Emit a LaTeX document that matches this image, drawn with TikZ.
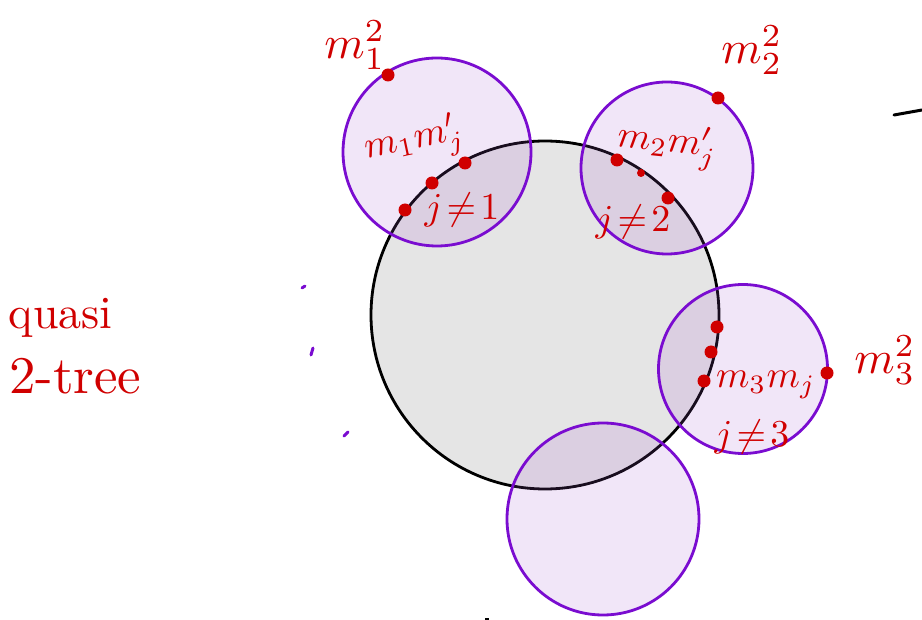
\documentclass[tikz,border=0pt]{standalone}
\usepackage{amsmath}
\begin{document}
\begin{tikzpicture}[x=1pt,y=-1pt,
  bigc/.style={circle,draw=black,line width=2.8pt,fill=gray!20,inner sep=0pt},
  smallc/.style={circle,draw={rgb,255:red,122;green,12;blue,208},line width=2.8pt,
     fill={rgb,255:red,162;green,88;blue,208},fill opacity=0.15,draw opacity=1,inner sep=0pt},
  rdot/.style={circle,fill={rgb,255:red,208;green,0;blue,0},inner sep=0pt,minimum size=13pt},
  sdot/.style={rdot,minimum size=8pt},
  lab/.style={text={rgb,255:red,208;green,0;blue,0},inner sep=0pt,scale=3.8},
  biglab/.style={text={rgb,255:red,208;green,0;blue,0},inner sep=0pt,scale=4.6},
  pmark/.style={draw={rgb,255:red,122;green,12;blue,208},line width=3pt,line cap=round}]
\useasboundingbox (0,0) rectangle (922,620);
\node[bigc,minimum size=348pt] (g) at (545,315) {};
\node[smallc,minimum size=188pt] (c1) at (437,152) {};
\node[smallc,minimum size=172pt] (c2) at (667,168) {};
\node[smallc,minimum size=169pt] (c3) at (743,369) {};
\node[smallc,minimum size=192pt] (c4) at (603,519) {};
% labels
\node[biglab] (t1) at (355,45) {$m_1^2$};
\node[lab,rotate=12] (t11) at (414,142) {$m_1m_j'$};
\node[lab] (t12) at (462,210) {$j\!\neq\!1$};
\node[biglab] (t2) at (752,50) {$m_2^2$};
\node[lab,rotate=-6] (t21) at (667,145) {$m_2m_j'$};
\node[lab] (t22) at (633,222) {$j\!\neq\!2$};
\node[biglab] (t3) at (885,360) {$m_3^2$};
\node[lab] (t31) at (766,385) {$m_3m_j$};
\node[lab] (t32) at (752,437) {$j\!\neq\!3$};
\node[biglab,anchor=west] (q1) at (8,318) {quasi};
\node[biglab,anchor=west,scale=1.15] (q2) at (8,376) {2-tree};
% dots
\node[rdot] (d1) at (388,75) {};
\node[rdot] (d11) at (465,163) {};
\node[rdot] (d12) at (432,183) {};
\node[rdot] (d13) at (405,210) {};
\node[rdot] (d2) at (718,98) {};
\node[rdot] (d21) at (617,160) {};
\node[sdot] (d22) at (641,173) {};
\node[rdot] (d23) at (668,198) {};
\node[rdot] (d31) at (717,327) {};
\node[rdot] (d32) at (711,352) {};
\node[rdot] (d33) at (704,381) {};
\node[rdot] (d3) at (827,373) {};
% stray marks
\coordinate (p1) at (302,288); \coordinate (p1b) at (305,286);
\coordinate (p2) at (311,355); \coordinate (p2b) at (313,348);
\coordinate (p3) at (344,436); \coordinate (p3b) at (348,432);
\draw[pmark] (p1) -- (p1b);
\draw[pmark] (p2) -- (p2b);
\draw[pmark] (p3) -- (p3b);
\coordinate (k1) at (894,115); \coordinate (k2) at (922,110);
\draw[line width=3pt,line cap=round] (k1) -- (k2);
\coordinate (k3) at (485,619); \coordinate (k4) at (489,619);
\draw[line width=2pt] (k3) -- (k4);
\end{tikzpicture}
\end{document}
